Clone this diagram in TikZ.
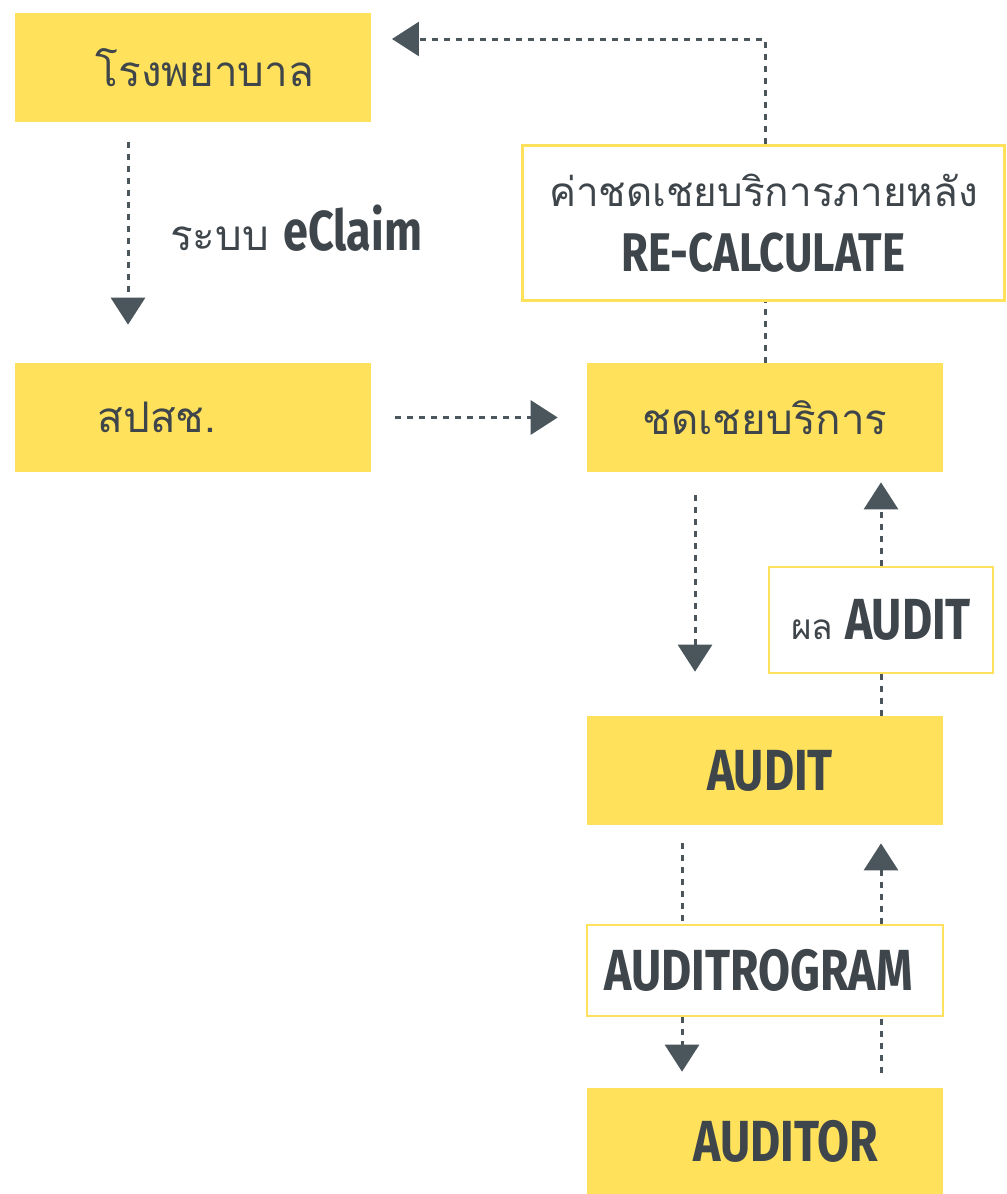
\documentclass[tikz,border=0pt]{standalone}
\usepackage{fontspec}
\usetikzlibrary{arrows.meta}
\newfontfamily\thai[Script=Thai]{Loma}
\newfontfamily\lat[FakeStretch=0.8]{Fira Sans}
\definecolor{yel}{HTML}{FFE15B}
\definecolor{ink}{HTML}{3F464B}
\definecolor{arr}{HTML}{4B565C}
\newcommand{\bigth}{\thai\fontsize{24}{30}\selectfont}
\newcommand{\midth}{\thai\fontsize{20}{26}\selectfont}
\newcommand{\biglat}{\lat\bfseries\fontsize{33}{38}\selectfont}
\begin{document}
\begin{tikzpicture}[x=0.02cm,y=-0.02cm,
	yb/.style={fill=yel,minimum width=7.12cm,minimum height=2.18cm,inner sep=0pt,text=ink},
	wb/.style={draw=yel,fill=white,line width=1.2pt,inner sep=0pt,text=ink},
	dots/.style={draw=arr,line width=0.06cm,dash pattern=on 0.12cm off 0.12cm},
	flow/.style={dots,-{Triangle[width=0.68cm,length=0.54cm]}}]
	\useasboundingbox (0,0) rectangle (1007,1194);
	% boxes
	\node[yb] (hosp) at (193,67.5) {\bigth\hspace*{0.48cm}โรงพยาบาล};
	\node[yb] (spsch) at (193,417.5) {\bigth สปสช.\hspace*{1.44cm}};
	\node[yb] (chd) at (765,417.5) {\bigth ชดเชยบริการ};
	\node[wb,line width=1.7pt,minimum width=9.66cm,minimum height=3.12cm,align=center] (recalc) at (763.5,223)
		{\thai\fontsize{23}{30}\selectfont ค่าชดเชยบริการภายหลัง\\[14pt]\lat\bfseries\fontsize{31}{36}\selectfont RE-CALCULATE};
	\node[wb,minimum width=4.48cm,minimum height=2.12cm] (res) at (881,620) {\midth ผล \biglat AUDIT};
	\node[yb] (audit) at (765,770.5) {\biglat\hspace*{0.2cm}AUDIT};
	\node[wb,minimum width=7.12cm,minimum height=1.82cm] (prog) at (765,970.5) {\biglat AUDITROGRAM\hspace*{0.26cm}};
	\node[yb,minimum height=2.12cm] (auditor) at (765,1141) {\biglat\hspace*{0.84cm}AUDITOR};
	\node[anchor=west,text=ink,inner sep=0pt] (sys) at (170,228) {\bigth ระบบ \lat\bfseries\fontsize{32}{36}\selectfont eClaim};
	\coordinate (ret) at (392,39);
	% connectors
	\draw[flow,shorten <=0.4cm,shorten >=0.76cm] ([xshift=-1.3cm]hosp.south) -- ([xshift=-1.3cm]spsch.north);
	\draw[flow,shorten <=0.48cm,shorten >=0.58cm] (spsch.east) -- (chd.west);
	\draw[dots] (chd.north) -- (chd.north |- recalc.south);
	\draw[flow] (chd.north |- recalc.north) |- (ret);
	\draw[flow,shorten <=0.46cm,shorten >=0.88cm] ([xshift=-1.4cm]chd.south) -- ([xshift=-1.4cm]audit.north);
	\draw[dots] (res.south |- audit.north) -- (res.south);
	\draw[flow,shorten >=0.2cm] (res.north) -- (res.north |- chd.south);
	\draw[dots,shorten <=0.36cm] ([xshift=-1.66cm]audit.south) -- ([xshift=-1.66cm]prog.north);
	\draw[flow,shorten >=0.32cm] ([xshift=-1.66cm]prog.south) -- ([xshift=-1.66cm]auditor.north);
	\draw[dots,shorten <=0.3cm] (res.south |- auditor.north) -- (res.south |- prog.south);
	\draw[flow,shorten >=0.36cm] (res.north |- prog.north) -- (res.north |- audit.south);
\end{tikzpicture}
\end{document}
